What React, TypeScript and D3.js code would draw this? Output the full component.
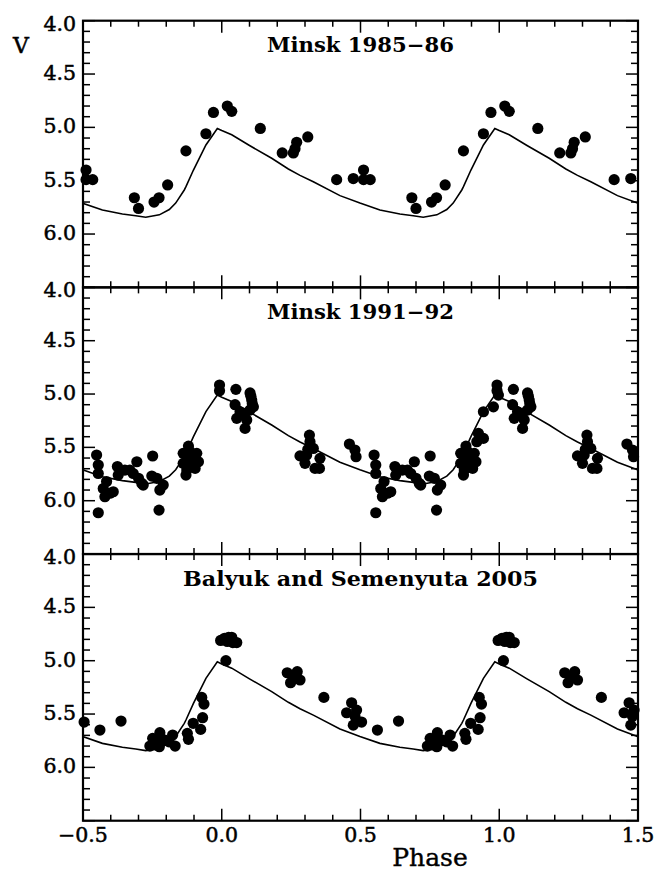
import * as d3 from 'd3';

// light curve model (phase in [0,1), V mag)
const modelPhase = [0.0, 0.036, 0.1, 0.18, 0.24, 0.282, 0.33, 0.426, 0.498, 0.57, 0.642, 0.69, 0.726, 0.775, 0.811, 0.834, 0.865, 0.871, 0.898, 0.943, 0.984];
const modelV = [5.03, 5.07, 5.17, 5.29, 5.39, 5.45, 5.51, 5.64, 5.71, 5.775, 5.812, 5.828, 5.843, 5.82, 5.77, 5.71, 5.587, 5.556, 5.4, 5.165, 5.01];

// Minsk 1985-86
const minsk85Phase = [0.511, 0.511, 0.535, 0.685, 0.7, 0.756, 0.774, 0.805, 0.871, 0.943, 0.97, 0.02, 0.036, 0.139, 0.218, 0.258, 0.264, 0.27, 0.31, 0.414, 0.474];
const minsk85V = [5.4, 5.49, 5.49, 5.66, 5.76, 5.7, 5.66, 5.54, 5.22, 5.06, 4.86, 4.8, 4.85, 5.01, 5.24, 5.24, 5.2, 5.14, 5.09, 5.49, 5.48];

// Minsk 1991-92
const minsk91Phase = [
  0.549, 0.555, 0.555, 0.573, 0.579, 0.597, 0.609, 0.555, 0.585, 0.624, 0.627, 0.651, 0.669, 0.681, 0.694, 0.7, 0.712, 0.717,
  0.751, 0.748, 0.766, 0.777, 0.789, 0.774,
  0.861, 0.88, 0.886, 0.91, 0.861, 0.874, 0.871, 0.898, 0.904, 0.916, 0.88, 0.89,
  0.992, 0.992, 0.051, 0.102, 0.108, 0.114, 0.048, 0.066, 0.054, 0.084, 0.09, 0.084, 0.102, 0.11, 0.105,
  0.316, 0.318, 0.33, 0.282, 0.306, 0.3, 0.336, 0.354, 0.352, 0.31,
  0.46, 0.48, 0.484,
];
const minsk91V = [
  5.572, 5.666, 5.745, 5.886, 5.963, 5.93, 5.916, 6.113, 5.82, 5.68, 5.76, 5.713, 5.713, 5.745, 5.635, 5.79, 5.838, 5.853,
  5.581, 5.769, 5.79, 5.9, 5.853, 6.088,
  5.556, 5.488, 5.54, 5.556, 5.65, 5.713, 5.76, 5.635, 5.697, 5.635, 5.6, 5.68,
  4.916, 4.969, 4.956, 4.99, 5.057, 5.12, 5.1, 5.166, 5.228, 5.18, 5.244, 5.322, 5.15, 5.09, 5.02,
  5.385, 5.447, 5.51, 5.58, 5.572, 5.65, 5.697, 5.603, 5.697, 5.52,
  5.469, 5.525, 5.588,
];
// seen only on the second cycle
const minsk91ExtraPhase = [0.919, 0.925, 0.943, 0.943, 0.979, 0.997];
const minsk91ExtraV = [5.447, 5.369, 5.416, 5.166, 5.12, 5.01];

// Balyuk and Semenyuta 2005
const balyukPhase = [
  0.504, 0.561, 0.637, 0.741, 0.751, 0.756, 0.775, 0.777, 0.795, 0.81, 0.823, 0.832, 0.765,
  0.876, 0.88, 0.897, 0.924, 0.931, 0.928, 0.936,
  0.996, 0.01, 0.025, 0.036, 0.054, 0.04, 0.015, 0.02,
  0.236, 0.248, 0.26, 0.272, 0.282, 0.368, 0.45, 0.468, 0.474, 0.486, 0.48,
];
const balyukV = [
  5.575, 5.65, 5.566, 5.8, 5.728, 5.79, 5.806, 5.675, 5.744, 5.76, 5.697, 5.8, 5.76,
  5.681, 5.737, 5.587, 5.644, 5.534, 5.344, 5.407,
  4.81, 4.79, 4.78, 4.78, 4.83, 4.83, 5.0, 4.82,
  5.113, 5.206, 5.15, 5.103, 5.181, 5.344, 5.488, 5.394, 5.604, 5.463, 5.52,
];

const panelTitles = ['Minsk 1985\u221286', 'Minsk 1991\u221292', 'Balyuk and Semenyuta 2005'];
const titleWidths = [187, 187, 355];
const yLabels = [4.0, 4.5, 5.0, 5.5, 6.0];
const xLabels = [-0.5, 0.0, 0.5, 1.0, 1.5];

const L = 83;
const R = 638;
const TOP = 20.7;
const PH = 266.67;
const FONT = '"DejaVu Serif", serif';

const x = d3.scaleLinear().domain([-0.5, 1.5]).range([L, R]);

// fold [0,1) phases onto -0.5..1.5 (pad lets the curve run past the frame, it gets clipped)
const unfold = (ph: number[], v: number[], pad = 0) => {
  const out: [number, number][] = [];
  ph.forEach((p, i) => {
    [-1, 0, 1].forEach(k => {
      const q = p + k;
      if (q >= -0.5 - pad && q <= 1.5 + pad) out.push([q, v[i]]);
    });
  });
  return out;
};

const modelPts = unfold(modelPhase, modelV, 0.1).sort((a, b) => a[0] - b[0]);

const panels = [
  unfold(minsk85Phase, minsk85V),
  unfold(minsk91Phase, minsk91V).concat(minsk91ExtraPhase.map((p, i) => [p, minsk91ExtraV[i]] as [number, number])),
  unfold(balyukPhase, balyukV),
];

const Panel = ({ idx, pts }: { idx: number; pts: [number, number][] }) => {
  const top = TOP + idx * PH;
  const y = d3.scaleLinear().domain([4, 6.5]).range([top, top + PH]);
  const line = d3
    .line<[number, number]>()
    .x(d => x(d[0]))
    .y(d => y(d[1]));

  const xt = d3.range(0, 21).map(i => -0.5 + i * 0.1);
  const yt = d3.range(0, 26).map(i => 4 + i * 0.1);
  const isMajor = (v: number) => Math.abs(v * 2 - Math.round(v * 2)) < 1e-6;

  return (
    <g>
      <defs>
        <clipPath id={`clip${idx}`}>
          <rect x={L} y={top} width={R - L} height={PH} />
        </clipPath>
      </defs>
      <path d={line(modelPts) ?? ''} fill="none" stroke="#000" strokeWidth={1.6} clipPath={`url(#clip${idx})`} />
      {pts.map((d, i) => (
        <circle key={i} cx={x(d[0])} cy={y(d[1])} r={5.6} fill="#000" />
      ))}
      {xt.map((v, i) => {
        const len = isMajor(v) ? 12 : 6;
        return (
          <g key={'x' + i}>
            <line x1={x(v)} x2={x(v)} y1={top} y2={top + len} stroke="#000" strokeWidth={1.5} />
            <line x1={x(v)} x2={x(v)} y1={top + PH} y2={top + PH - len} stroke="#000" strokeWidth={1.5} />
          </g>
        );
      })}
      {yt.map((v, i) => {
        const len = isMajor(v) ? 12 : 7;
        return (
          <g key={'y' + i}>
            <line x1={L} x2={L + len} y1={y(v)} y2={y(v)} stroke="#000" strokeWidth={1.5} />
            <line x1={R} x2={R - len} y1={y(v)} y2={y(v)} stroke="#000" strokeWidth={1.5} />
          </g>
        );
      })}
      <rect x={L} y={top} width={R - L} height={PH} fill="none" stroke="#000" strokeWidth={2.2} />
      {yLabels.map(v => (
        <text key={v} x={76} y={y(v) + (v === 4 ? 10 : 6)} textAnchor="end" fontFamily={FONT} fontSize={20.5} stroke="#000" strokeWidth={0.5}>
          {d3.format('.1f')(v)}
        </text>
      ))}
      <text
        x={(L + R) / 2 - titleWidths[idx] / 2}
        y={top + 31.5}
        textLength={titleWidths[idx]}
        lengthAdjust="spacingAndGlyphs"
        fontFamily={FONT}
        fontWeight="bold"
        fontSize={20}
      >
        {panelTitles[idx]}
      </text>
    </g>
  );
};

export default function App() {
  const bottom = TOP + 3 * PH;
  return (
    <svg width={658} height={871} style={{ position: 'absolute', left: 0, top: 0, background: '#fff' }}>
      <rect width={658} height={871} fill="#fff" />
      {panels.map((pts, i) => (
        <Panel key={i} idx={i} pts={pts} />
      ))}
      {xLabels.map(v => (
        <text key={v} x={x(v)} y={bottom + 21.5} textAnchor="middle" fontFamily={FONT} fontSize={20.5} stroke="#000" strokeWidth={0.5}>
          {d3.format('.1f')(v)}
        </text>
      ))}
      <text x={430} y={866} textAnchor="middle" fontFamily={FONT} fontSize={25} stroke="#000" strokeWidth={0.4}>
        Phase
      </text>
      <text x={21} y={53} textAnchor="middle" fontFamily={FONT} fontSize={22} stroke="#000" strokeWidth={0.5}>
        V
      </text>
    </svg>
  );
}
